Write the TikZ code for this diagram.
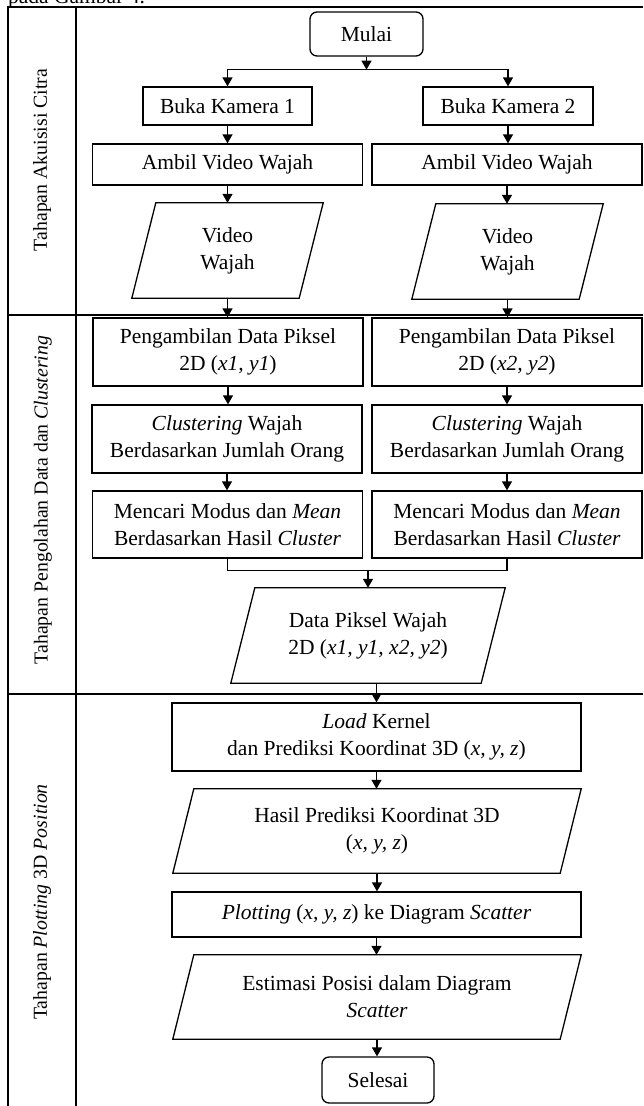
\documentclass[tikz,border=0pt]{standalone}
\usepackage{fontspec}
\setmainfont{Liberation Serif}
\usetikzlibrary{arrows.meta,calc}

\tikzset{
  flow/.style={draw, line width=1.3pt, align=center, inner sep=0pt,
    font=\fontsize{21.5}{27}\selectfont},
  proc/.style={flow, rectangle},
  term/.style={flow, rounded corners=7pt},
  io/.style={align=center, inner sep=0pt, font=\fontsize{21.5}{27}\selectfont},
  lane/.style={rotate=90, inner sep=0pt, font=\fontsize{19.8}{24}\selectfont},
  link/.style={line width=1.3pt},
  arr/.style={line width=1.3pt, -{Triangle[length=9pt,width=10pt]}},
}
% outline of a data (input/output) node, slanted by #2
\newcommand\iobox[2]{%
  \draw[link] ([xshift=#2]#1.north west) -- (#1.north east)
    -- ([xshift=-#2]#1.south east) -- (#1.south west) -- cycle;}

\begin{document}
\begin{tikzpicture}[x=1pt, y=-1pt]
\useasboundingbox (0,0) rectangle (643,1106);

% lead-in line of the text above the chart
\node[anchor=base west, inner sep=0pt, font=\fontsize{21.5}{27}\selectfont]
  (caption) at (8,3) {pada Gambar 4.};

% swimlane frame
\draw[link] (643,7) -- (8,7) -- (8,1106);
\draw[link] (76,7) -- (76,1106);
\draw[link] (8,315) -- (643,315);
\draw[link] (8,694) -- (643,694);

\node[lane] (lane1) at (42,160) {Tahapan Akuisisi Citra};
\node[lane] (lane2) at (43,500) {Tahapan Pengolahan Data dan \textit{Clustering}};
\node[lane] (lane3) at (42,902) {Tahapan \textit{Plotting} 3D \textit{Position}};

% image acquisition
\node[term, minimum width=113pt, minimum height=44pt] (start) at (366.5,34) {Mulai};
\node[proc, minimum width=169pt, minimum height=38pt] (cam1) at (227.5,106) {Buka Kamera 1};
\node[proc, minimum width=170pt, minimum height=38pt] (cam2) at (508,106) {Buka Kamera 2};
\node[proc, minimum width=270pt, minimum height=41pt] (rec1) at (227.5,164.5) {Ambil Video Wajah};
\node[proc, minimum width=270pt, minimum height=41pt] (rec2) at (507,164.5) {Ambil Video Wajah};
\node[io, minimum width=191pt, minimum height=95pt] (vid1) at (227.5,250.5) {Video\\Wajah};
\node[io, minimum width=191pt, minimum height=95pt] (vid2) at (507.5,251.5) {Video\\Wajah};
\iobox{vid1}{24pt}
\iobox{vid2}{24pt}

% data processing and clustering
\node[proc, minimum width=270pt, minimum height=68pt] (px1) at (228,352)
  {Pengambilan Data Piksel\\2D (\textit{x1, y1})};
\node[proc, minimum width=270pt, minimum height=68pt] (px2) at (507,352)
  {Pengambilan Data Piksel\\2D (\textit{x2, y2})};
\node[proc, minimum width=270pt, minimum height=68pt] (cl1) at (227,439)
  {\textit{Clustering} Wajah\\Berdasarkan Jumlah Orang};
\node[proc, minimum width=270pt, minimum height=68pt] (cl2) at (507,439)
  {\textit{Clustering} Wajah\\Berdasarkan Jumlah Orang};
\node[proc, minimum width=270pt, minimum height=67pt] (mo1) at (227.5,524.5)
  {Mencari Modus dan \textit{Mean}\\Berdasarkan Hasil \textit{Cluster}};
\node[proc, minimum width=270pt, minimum height=67pt] (mo2) at (507,524.5)
  {Mencari Modus dan \textit{Mean}\\Berdasarkan Hasil \textit{Cluster}};
\node[io, minimum width=274pt, minimum height=95pt] (pix) at (368,635.5)
  {Data Piksel Wajah\\2D (\textit{x1, y1, x2, y2})};
\iobox{pix}{24pt}

% 3D position plotting
\node[proc, minimum width=409pt, minimum height=68pt] (load) at (376.5,737)
  {\textit{Load} Kernel\\dan Prediksi Koordinat 3D (\textit{x, y, z})};
\node[io, minimum width=408pt, minimum height=84pt] (pred) at (377,831)
  {Hasil Prediksi Koordinat 3D\\(\textit{x, y, z})};
\iobox{pred}{21pt}
\node[proc, minimum width=409pt, minimum height=45pt] (plot) at (376.5,914.5)
  {\textit{Plotting} (\textit{x, y, z}) ke Diagram \textit{Scatter}};
\node[io, minimum width=408pt, minimum height=84pt] (est) at (377,997)
  {Estimasi Posisi dalam Diagram\\\textit{Scatter}};
\iobox{est}{21pt}
\node[term, minimum width=112pt, minimum height=46pt] (stop) at (378,1080) {Selesai};

% connectors
\coordinate (split) at ($(start.south)+(0,13)$);
\draw[arr] (start.south) -- (split);
\draw[arr] (split) -| (cam1.north);
\draw[arr] (split) -| (cam2.north);
\draw[arr] (cam1.south) -- (cam1.south |- rec1.north);
\draw[arr] (cam2.south) -- (cam2.south |- rec2.north);
\draw[arr] (rec1.south) -- (rec1.south |- vid1.north);
\draw[arr] (rec2.south) -- (rec2.south |- vid2.north);
\draw[arr] (vid1.south) -- (vid1.south |- px1.north);
\draw[arr] (vid2.south) -- (vid2.south |- px2.north);
\draw[arr] (px1.south) -- (px1.south |- cl1.north);
\draw[arr] (px2.south) -- (px2.south |- cl2.north);
\draw[arr] (cl1.south) -- (cl1.south |- mo1.north);
\draw[arr] (cl2.south) -- (cl2.south |- mo2.north);
\draw[link] (mo1.south) -- ++(0,12) -| (mo2.south);
\coordinate (merge) at ($(pix.north)+(0,-18)$);
\draw[arr] (merge) -- (pix.north);
\draw[arr] (load.north |- pix.south) -- (load.north);
\draw[arr] (load.south) -- (load.south |- pred.north);
\draw[arr] (pred.south) -- (pred.south |- plot.north);
\draw[arr] (plot.south) -- (plot.south |- est.north);
\draw[arr] (est.south) -- (est.south |- stop.north);
\end{tikzpicture}
\end{document}
